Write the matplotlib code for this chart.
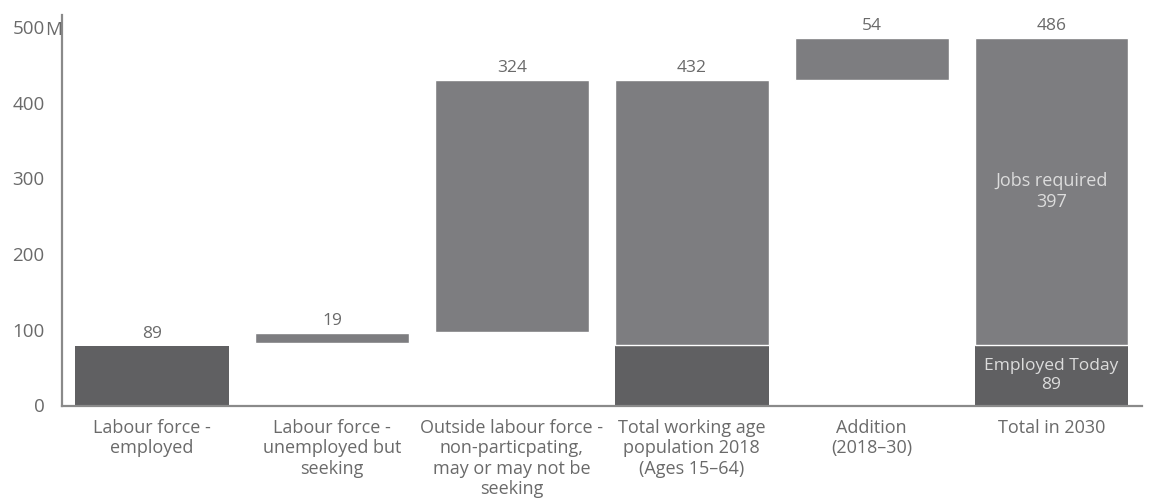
import numpy as np
import matplotlib.pyplot as plt

plt.rcParams['font.family'] = ['Open Sans', 'DejaVu Sans']

# categories along the x axis
categories = [
    "Labour force -\nemployed",
    "Labour force -\nunemployed but\nseeking",
    "Outside labour force -\nnon-particpating,\nmay or may not be\nseeking",
    "Total working age\npopulation 2018\n(Ages 15\u201364)",
    "Addition\n(2018\u201330)",
    "Total in 2030",
]
# printed values above each bar (millions)
value_labels = [89, 19, 324, 432, 54, 486]

# bar extents as drawn in the picture (millions)
light_bottom = [0, 82, 97.5, 80, 430, 80]
light_top = [0, 96, 430, 430, 485, 485]
dark_top = [79, 0, 0, 80, 0, 80]

# text inside the 2030 bar
jobs_required = 397
employed_today = 89

dark = '#606062'
light = '#7d7d80'
text_col = '#6a6a6a'
axis_col = '#8a8a8a'

fig = plt.figure(figsize=(11.53, 5.04), dpi=100)
ax = fig.add_axes([62 / 1153, 1 - 405.5 / 504, (1141.5 - 62) / 1153, (405.5 - 15) / 504])

x = np.arange(len(categories))
width = 0.855

# dark parts (employed)
ax.bar(x, dark_top, width=width, color=dark, linewidth=0)
# light parts
heights = np.array(light_top) - np.array(light_bottom)
ax.bar(x, heights, bottom=light_bottom, width=width, color=light,
       edgecolor='white', linewidth=1.0)

# value labels above bars
tops = np.maximum(light_top, dark_top)
for xi, top, v in zip(x, tops, value_labels):
    ax.annotate(str(v), (xi, top), xytext=(0, 3), textcoords='offset points',
                ha='center', va='bottom', fontsize=12.5, color=text_col)

# labels inside the 2030 bar
ax.text(x[5], (light_bottom[5] + light_top[5]) / 2, f"Jobs required\n{jobs_required}",
        ha='center', va='center', fontsize=13, color='#dcdcdc', linespacing=1.25)
ax.text(x[5], dark_top[5] / 2, f"Employed Today\n{employed_today}",
        ha='center', va='center', fontsize=12.5, color='#dcdcdc', linespacing=1.25)

ax.set_xlim(-0.5, len(categories) - 0.5)
ax.set_ylim(0, 516)
ax.set_yticks([0, 100, 200, 300, 400, 500])
ax.set_yticklabels(['0', '100', '200', '300', '400', '500'])
ax.annotate('M', (0, 500), xycoords=('axes fraction', 'data'), xytext=(-12.0, -0.5),
            textcoords='offset points', ha='left', va='center_baseline', fontsize=13.5,
            color=text_col)

ax.set_xticks(x)
ax.set_xticklabels(categories, fontsize=13, color=text_col, linespacing=1.15)
ax.tick_params(axis='x', length=0, pad=10)
ax.tick_params(axis='y', length=0, pad=12.5, labelsize=13.5, labelcolor=text_col)

for side in ['top', 'right']:
    ax.spines[side].set_visible(False)
for side in ['left', 'bottom']:
    ax.spines[side].set_color(axis_col)
    ax.spines[side].set_linewidth(1.6)

fig.savefig('out.png', dpi=100)
